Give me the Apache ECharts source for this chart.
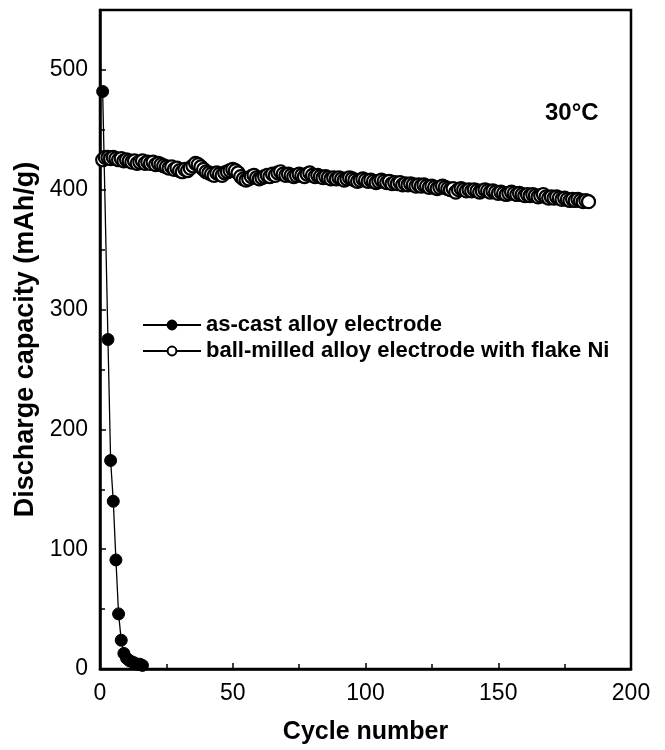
<!DOCTYPE html>
<html lang="en">
<head>
    <meta charset="UTF-8">
    <title>Discharge capacity vs cycle number</title>
    <script src="https://cdn.jsdelivr.net/npm/echarts@6.0.0/dist/echarts.min.js"></script>
    <style>
        body { margin: 0; background: #fff; }
    </style>
</head>
<body>

<div id="main" style="width: 665px;height:750px;"></div>
<script type="text/javascript">

    // as-cast alloy electrode: [cycle, mAh/g]
    let asCastCycles = [1, 3, 4, 5, 6, 7, 8, 9, 10, 11, 12, 13, 14, 15, 16];
    let asCastValues = [482, 275, 174, 140, 91, 46, 24, 13, 9, 7, 6, 5, 4, 4, 3];

    // ball-milled alloy electrode with flake Ni, one value per cycle from cycle 1
    let milledValues = [
        425, 427, 427, 426, 427, 426, 425, 426, 424, 425,
        424, 423, 424, 422, 423, 424, 422, 423, 422, 423,
        421, 422, 421, 420, 419, 418, 419, 417, 418, 416,
        415, 417, 416, 418, 420, 422, 421, 419, 417, 415,
        414, 413, 412, 414, 413, 412, 414, 415, 416, 417,
        416, 414, 411, 409, 408, 409, 411, 412, 410, 409,
        410, 411, 412, 411, 413, 412, 414, 415, 413, 412,
        413, 412, 411, 412, 413, 412, 411, 413, 414, 412,
        411, 412, 411, 410, 411, 410, 409, 410, 409, 410,
        409, 408, 409, 410, 409, 408, 407, 408, 409, 408,
        407, 408, 407, 406, 407, 408, 407, 406, 407, 405,
        406, 405, 406, 404, 405, 404, 405, 404, 403, 404,
        403, 404, 403, 402, 403, 402, 401, 402, 403, 402,
        401, 400, 401, 398, 400, 401, 400, 399, 400, 399,
        400, 399, 398, 399, 400, 399, 398, 399, 398, 397,
        398, 397, 396, 397, 398, 397, 396, 397, 396, 395,
        396, 395, 396, 395, 394, 395, 396, 394, 393, 394,
        393, 394, 393, 392, 393, 392, 391, 392, 391, 392,
        391, 390, 391, 390
    ];

    let seriesNames = ['as-cast alloy electrode', 'ball-milled alloy electrode with flake Ni'];

    let asCastData = asCastCycles.map((c, i) => [c, asCastValues[i]]);
    let milledData = milledValues.map((v, i) => [i + 1, v]);

    let font = 'Liberation Sans, Arial, sans-serif';

    option = {
        backgroundColor: '#fff',
        animation: false,
        textStyle: { fontFamily: font, color: '#000' },
        grid: {
            left: 100,
            right: 34,
            top: 10,
            bottom: 81,
            show: true,
            borderColor: '#000',
            borderWidth: 2.5
        },
        title: {
            text: '30°C',
            left: 540,
            top: 96,
            textStyle: { fontFamily: font, fontSize: 24, fontWeight: 'bold', color: '#000' }
        },
        legend: {
            orient: 'vertical',
            left: 137,
            top: 307,
            itemWidth: 58,
            itemHeight: 11,
            itemGap: 0,
            textStyle: { fontFamily: font, fontSize: 22, fontWeight: 'bold', color: '#000', lineHeight: 26 },
            data: seriesNames
        },
        xAxis: {
            type: 'value',
            min: 0,
            max: 200,
            interval: 50,
            name: 'Cycle number',
            nameLocation: 'middle',
            nameGap: 51,
            nameTextStyle: { fontFamily: font, fontSize: 25, fontWeight: 'bold', color: '#000' },
            axisLine: { lineStyle: { color: '#000', width: 2.5 } },
            axisTick: { inside: true, length: 6, lineStyle: { color: '#000', width: 1.5 } },
            minorTick: { show: true, splitNumber: 2, length: 5, lineStyle: { color: '#000', width: 1.5 } },
            axisLabel: { fontFamily: font, fontSize: 23, color: '#000', margin: 13 },
            splitLine: { show: false }
        },
        yAxis: {
            type: 'value',
            min: 0,
            max: 550,
            interval: 100,
            name: 'Discharge capacity (mAh/g)',
            nameLocation: 'middle',
            nameGap: 58,
            nameTextStyle: { fontFamily: font, fontSize: 27, fontWeight: 'bold', color: '#000' },
            axisLine: { lineStyle: { color: '#000', width: 2.5 } },
            axisTick: { inside: true, length: 6, lineStyle: { color: '#000', width: 1.5 } },
            minorTick: { show: true, splitNumber: 2, length: 5, lineStyle: { color: '#000', width: 1.5 } },
            axisLabel: {
                fontFamily: font, fontSize: 23, color: '#000', margin: 12,
                formatter: v => (v > 500 ? '' : v)
            },
            splitLine: { show: false }
        },
        series: [{
            name: seriesNames[1],
            type: 'line',
            data: milledData,
            symbol: 'circle',
            symbolSize: 13,
            z: 2,
            lineStyle: { color: '#000', width: 1 },
            itemStyle: { color: '#fff', borderColor: '#000', borderWidth: 2.2 }
        }, {
            name: seriesNames[0],
            type: 'line',
            data: asCastData,
            symbol: 'circle',
            symbolSize: 12,
            z: 3,
            lineStyle: { color: '#000', width: 1.3 },
            itemStyle: { color: '#000', borderColor: '#000', borderWidth: 1 }
        }]
    };

    let myChart = echarts.init(document.getElementById('main'));
    myChart.setOption(option)
</script>
</body>
</html>
